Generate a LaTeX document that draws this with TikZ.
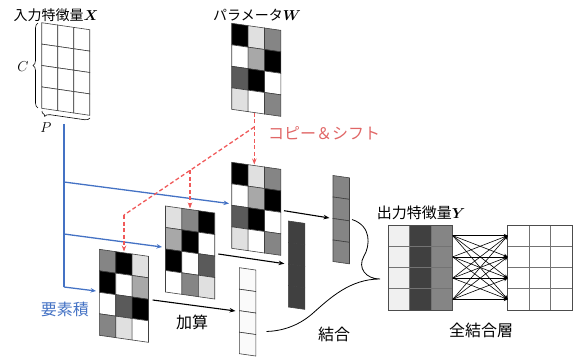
\documentclass[tikz,border=0pt]{standalone}
\usepackage{fontspec}
\usepackage{amsmath,bm}
\newfontfamily\jp{Noto Sans CJK JP}
\usetikzlibrary{arrows.meta,decorations.pathreplacing}
\definecolor{cK}{HTML}{000000}
\definecolor{cL}{HTML}{E0E0E0}
\definecolor{cG}{HTML}{858585}
\definecolor{cA}{HTML}{A8A8A8}
\definecolor{cD}{HTML}{5A5A5A}
\definecolor{cW}{HTML}{FFFFFF}
\definecolor{cV}{HTML}{FAFAFA}
\definecolor{cB}{HTML}{404040}
\definecolor{cY}{HTML}{F0F0F0}
\definecolor{myblue}{HTML}{4472C4}
\definecolor{myred}{HTML}{F05A5A}
\definecolor{redtext}{HTML}{E06666}
\newcommand\pgridcells[7]{% x0,y0,cellw,cellh,ncols,colors, slope
  \begin{scope}[shift={(#1,#2)}, yslant=-#7]
    \foreach \c [count=\n from 0] in {#6} {
      \pgfmathtruncatemacro\cc{mod(\n,#5)}
      \pgfmathtruncatemacro\rr{div(\n,#5)}
      \filldraw[fill=\c, cellline] (\cc*#3,\rr*#4) rectangle ++(#3,#4);
    }
  \end{scope}}
\tikzset{
  cellline/.style={draw=black!75, line width=0.6pt},
  jpt/.style={font=\jp\fontsize{14}{16}\selectfont, inner sep=0pt},
  jpl/.style={font=\jp\fontsize{16}{18}\selectfont, inner sep=0pt},
  mathlbl/.style={font=\fontsize{14}{16}\selectfont, inner sep=0pt},
  bluearrow/.style={draw=myblue, line width=1.3pt, -{Stealth[length=5.5pt,width=4.5pt]}},
  blueline/.style={draw=myblue, line width=1.3pt},
  redarrow/.style={draw=myred, line width=1.3pt, dash pattern=on 4pt off 2.5pt, -{Stealth[length=6pt,width=4.5pt]}},
  redline/.style={draw=myred, line width=1.3pt, dash pattern=on 4pt off 2.5pt},
  blackarrow/.style={draw=black, line width=1.1pt, -{Stealth[length=6pt,width=4.5pt]}},
  fcarrow/.style={draw=black, line width=0.6pt, -{Stealth[length=4pt,width=3.5pt]}},
}
\begin{document}
\begin{tikzpicture}[x=1pt,y=-1pt]
\useasboundingbox (0,0) rectangle (582,361);
% input X
\pgridcells{41.7}{22.7}{16}{21.4}{3}{cW,cW,cW,cW,cW,cW,cW,cW,cW,cW,cW,cW}{0.146}
\node[jpt] (tX) at (56,15) {入力特徴量$\bm{X}$};
\draw[decorate, decoration={brace, amplitude=5pt}, line width=0.6pt] (38,108) -- (38,23);
\node[mathlbl] (lC) at (23,67) {$C$};
\draw[decorate, decoration={brace, amplitude=5pt, aspect=0.93}, line width=0.6pt] (90,118) -- (42,111);
\node[mathlbl] (lP) at (46,127.5) {$P$};
% parameter W
\pgridcells{231.7}{23.3}{16.4}{21.5}{3}{cK,cL,cG,cW,cA,cK,cD,cK,cW,cL,cW,cG}{0.143}
\node[jpt] (tW) at (257,15) {パラメータ$\bm{W}$};
% copies
\pgridcells{231.7}{162.3}{16.4}{21.5}{3}{cK,cL,cG,cW,cA,cK,cD,cK,cW,cL,cW,cG}{0.143}
\pgridcells{165.5}{206}{16.4}{21.5}{3}{cL,cG,cK,cA,cK,cW,cK,cW,cD,cW,cG,cL}{0.143}
\pgridcells{99.3}{249.3}{16.4}{21.5}{3}{cG,cK,cL,cK,cW,cA,cW,cD,cK,cG,cL,cW}{0.143}
% vectors
\pgridcells{333}{175.5}{16.5}{21.5}{1}{cG,cG,cG,cG}{0.143}
\pgridcells{288.3}{221}{16.5}{21.5}{1}{cB,cB,cB,cB}{0.143}
\pgridcells{239.3}{267.7}{16.5}{21.5}{1}{cV,cV,cV,cV}{0.143}
% blue connectors
\coordinate (bTop) at (64,124);
\coordinate (b1) at (64,182);
\coordinate (b2) at (64,234);
\coordinate (b3) at (64,287);
\coordinate (gA) at (229,203.5);
\coordinate (gB) at (162,247);
\coordinate (gC) at (96,291);
\draw[blueline] (bTop) -- (b3);
\draw[bluearrow] (b1) -- (gA);
\draw[bluearrow] (b2) -- (gB);
\draw[bluearrow] (b3) -- (gC);
\node[jpl, text=myblue] (tE) at (65,309) {要素積};
% red copy & shift
\coordinate (rW) at (254.3,113);
\coordinate (rA) at (254.3,164.5);
\coordinate (rS) at (254.3,127);
\coordinate (rK) at (124,215);
\coordinate (rC) at (124,251.5);
\coordinate (rM) at (190,170.3);
\coordinate (rB) at (190,208.5);
\draw[redarrow] (rW) -- (rA);
\draw[redline] (rS) -- (rK);
\draw[redarrow] (rK) -- (rC);
\draw[redarrow] (rM) -- (rB);
\node[jpl, text=redtext] (tCS) at (324,133) {コピー＆シフト};
% black arrows
\coordinate (aA1) at (284,210.7);
\coordinate (aA2) at (329.5,218);
\coordinate (aB1) at (218.3,254);
\coordinate (aB2) at (284.5,263.7);
\coordinate (aC1) at (152.7,300);
\coordinate (aC2) at (235.5,311);
\draw[blackarrow] (aA1) -- (aA2);
\draw[blackarrow] (aB1) -- (aB2);
\draw[blackarrow] (aC1) -- (aC2);
\node[jpl] (tAdd) at (192,322) {加算};
% concat curve
\coordinate (kTop) at (352,219.5);
\coordinate (kTip) at (380,279);
\coordinate (kEnd) at (266.5,331.5);
\draw[line width=0.8pt] (kTop) .. controls (372,226) and (370,246) .. (364,256)
  .. controls (357,268) and (366,279) .. (kTip)
  .. controls (350,279) and (330,298) .. (312,314)
  .. controls (298,326) and (282,331) .. (kEnd);
\node[jpl] (tCat) at (334,334) {結合};
% output Y
\foreach \c [count=\i from 0] in {cY,cB,cG} {
  \foreach \r in {0,1,2,3} {
    \filldraw[fill=\c, draw=black!55, line width=0.6pt] (388.3+\i*21.47,225+\r*21.25) rectangle ++(21.47,21.25);
  }
}
\draw[draw=black!70, line width=0.6pt] (388.3,225) rectangle (452.7,310);
\node[font=\jp\fontsize{15}{17}\selectfont, inner sep=0pt] (tY) at (421,213) {出力特徴量$\bm{Y}$};
% output grid
\foreach \i in {0,1,2} {
  \foreach \r in {0,1,2,3} {
    \draw[draw=black!55, line width=0.6pt] (507.7+\i*21.53,225+\r*21.25) rectangle ++(21.53,21.25);
  }
}
\draw[draw=black!70, line width=0.6pt] (507.7,225) rectangle (572.3,310);
\foreach \r in {1,2,3,4} {
  \coordinate (yr\r) at (452.7,{225+(\r-0.5)*21.25});
  \coordinate (ol\r) at (507.7,{225+(\r-0.5)*21.25});
}
\foreach \i in {1,2,3,4} {
  \foreach \j in {1,2,3,4} {
    \draw[fcarrow] (yr\i) -- (ol\j);
  }
}
\node[jpl] (tFC) at (481,330) {全結合層};
\end{tikzpicture}
\end{document}
